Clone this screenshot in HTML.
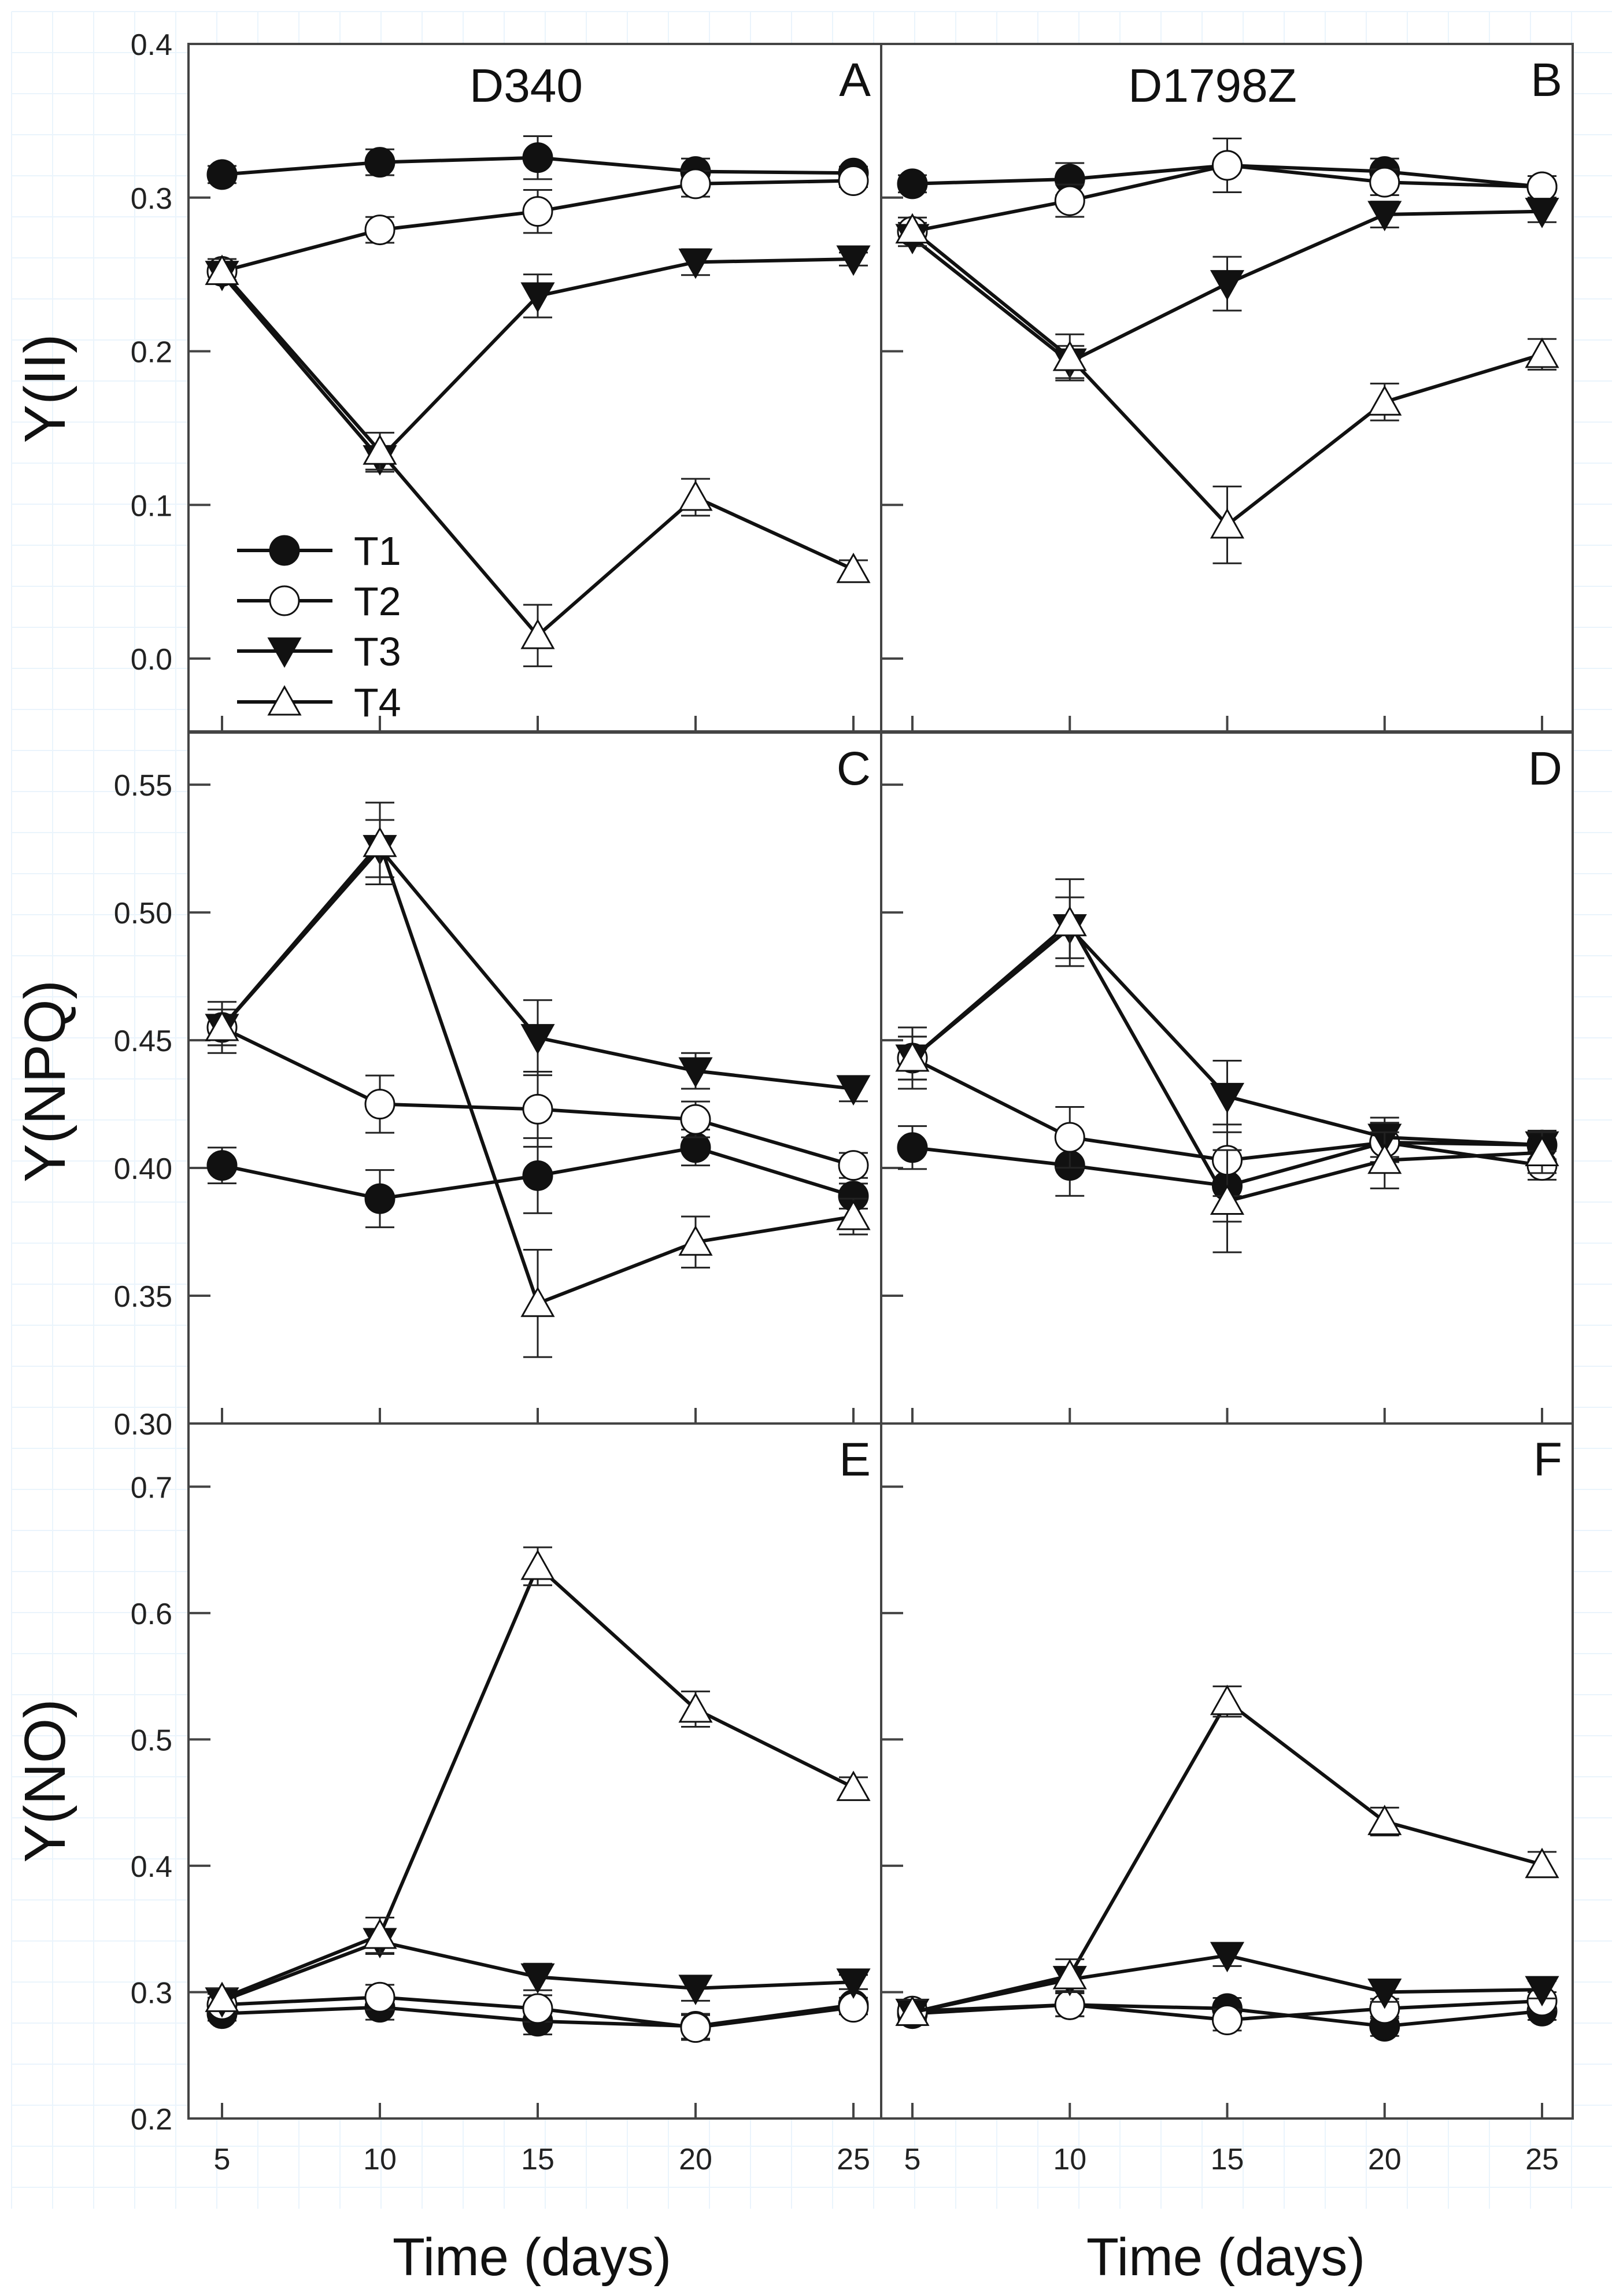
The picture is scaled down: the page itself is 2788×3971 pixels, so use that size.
<!DOCTYPE html>
<html><head><meta charset="utf-8"><style>
html,body{margin:0;padding:0;background:#fff;}
svg{display:block;font-family:"Liberation Sans",Arial,sans-serif;}
</style></head><body>
<svg id="chart" width="2788" height="3971" viewBox="0 0 2788 3971" xmlns="http://www.w3.org/2000/svg">
<g id="grid"></g>
<g id="plots"></g>
</svg>
<script>
const days = [5, 10, 15, 20, 25];
const seriesNames = ['T1', 'T2', 'T3', 'T4'];
// Panel A: Y(II) D340
const A_T1 = [0.315, 0.323, 0.326, 0.317, 0.316];
const A_T2 = [0.252, 0.279, 0.291, 0.309, 0.311];
const A_T3 = [0.250, 0.130, 0.236, 0.258, 0.260];
const A_T4 = [0.252, 0.135, 0.015, 0.105, 0.058];
const A_err = [0.008, 0.012, 0.020, 0.012, 0.006];
// Panel B: Y(II) D1798Z
const B_T1 = [0.309, 0.312, 0.321, 0.317, 0.307];
const B_T2 = [0.278, 0.298, 0.321, 0.310, 0.307];
const B_T3 = [0.274, 0.193, 0.244, 0.289, 0.291];
const B_T4 = [0.279, 0.196, 0.087, 0.167, 0.198];
const B_err = [0.008, 0.015, 0.025, 0.012, 0.010];
// Panel C: Y(NPQ) D340
const C_T1 = [0.401, 0.388, 0.397, 0.408, 0.389];
const C_T2 = [0.455, 0.425, 0.423, 0.419, 0.401];
const C_T3 = [0.455, 0.525, 0.451, 0.438, 0.431];
const C_T4 = [0.455, 0.527, 0.347, 0.371, 0.381];
const C_err = [0.010, 0.016, 0.021, 0.010, 0.007];
// Panel D: Y(NPQ) D1798Z
const D_T1 = [0.408, 0.401, 0.393, 0.410, 0.409];
const D_T2 = [0.443, 0.412, 0.403, 0.410, 0.401];
const D_T3 = [0.443, 0.494, 0.428, 0.412, 0.409];
const D_T4 = [0.443, 0.496, 0.387, 0.403, 0.406];
const D_err = [0.012, 0.017, 0.020, 0.011, 0.008];
// Panel E: Y(NO) D340
const E_T1 = [0.283, 0.288, 0.277, 0.273, 0.290];
const E_T2 = [0.290, 0.296, 0.287, 0.272, 0.288];
const E_T3 = [0.293, 0.340, 0.312, 0.303, 0.308];
const E_T4 = [0.295, 0.345, 0.637, 0.524, 0.462];
const E_err = [0.008, 0.014, 0.015, 0.014, 0.008];
// Panel F: Y(NO) D1798Z
const F_T1 = [0.283, 0.290, 0.287, 0.273, 0.285];
const F_T2 = [0.285, 0.290, 0.278, 0.287, 0.293];
const F_T3 = [0.284, 0.310, 0.329, 0.300, 0.302];
const F_T4 = [0.284, 0.313, 0.530, 0.435, 0.401];
const F_err = [0.010, 0.013, 0.012, 0.011, 0.010];
const yTicksII = [0.0, 0.1, 0.2, 0.3, 0.4];
const yTickLabelsII = ['0.0', '0.1', '0.2', '0.3', '0.4'];
const yTicksNPQ = [0.30, 0.35, 0.40, 0.45, 0.50, 0.55];
const yTickLabelsNPQ = ['0.30', '0.35', '0.40', '0.45', '0.50', '0.55'];
const yTicksNO = [0.2, 0.3, 0.4, 0.5, 0.6, 0.7];
const yTickLabelsNO = ['0.2', '0.3', '0.4', '0.5', '0.6', '0.7'];
const xTickLabels = ['5', '10', '15', '20', '25'];

const NS = 'http://www.w3.org/2000/svg';
function mk(tag, attrs, parent) {
  const e = document.createElementNS(NS, tag);
  for (const k in attrs) e.setAttribute(k, attrs[k]);
  parent.appendChild(e);
  return e;
}
const grid = document.getElementById('grid');
for (let x = 20; x < 2788; x += 71) {
  const l = mk('line', {x1: x, y1: 20, x2: x, y2: 3820, stroke: '#eaf4fc', 'stroke-width': 2}, grid);
  
  
}
for (let y = 20; y < 3830; y += 71) {
  const l = mk('line', {x1: 20, y1: y, x2: 2788, y2: y, stroke: '#eaf4fc', 'stroke-width': 2}, grid);
  
  
}

const plots = document.getElementById('plots');
const colX = [{l: 326, r: 1524, x5: 384, x25: 1476}, {l: 1524, r: 2720, x5: 1578, x25: 2667}];
const rows = [
  {top: 76, bot: 1265, vTop: 0.4, vBot: -0.0474, ticks: yTicksII, labels: yTickLabelsII, title: 'Y(II)', ty: 672},
  {top: 1267, bot: 2462, vTop: 0.5704, vBot: 0.30, ticks: yTicksNPQ, labels: yTickLabelsNPQ, title: 'Y(NPQ)', ty: 1870},
  {top: 2462, bot: 3664, vTop: 0.75, vBot: 0.20, ticks: yTicksNO, labels: yTickLabelsNO, title: 'Y(NO)', ty: 3080}
];
const panels = [
  {r: 0, c: 0, letter: 'A', s: [A_T1, A_T2, A_T3, A_T4], err: A_err, head: 'D340'},
  {r: 0, c: 1, letter: 'B', s: [B_T1, B_T2, B_T3, B_T4], err: B_err, head: 'D1798Z'},
  {r: 1, c: 0, letter: 'C', s: [C_T1, C_T2, C_T3, C_T4], err: C_err},
  {r: 1, c: 1, letter: 'D', s: [D_T1, D_T2, D_T3, D_T4], err: D_err},
  {r: 2, c: 0, letter: 'E', s: [E_T1, E_T2, E_T3, E_T4], err: E_err},
  {r: 2, c: 1, letter: 'F', s: [F_T1, F_T2, F_T3, F_T4], err: F_err}
];

function marker(g, i, cx, cy) {
  let m;
  if (i === 0) m = mk('circle', {cx, cy, r: 25, fill: '#111', stroke: '#111', 'stroke-width': 3}, g);
  else if (i === 1) m = mk('circle', {cx, cy, r: 25, fill: '#fff', stroke: '#111', 'stroke-width': 3}, g);
  else if (i === 2) m = mk('polygon', {points: `${cx-27},${cy-22} ${cx+27},${cy-22} ${cx},${cy+26}`, fill: '#111', stroke: '#111', 'stroke-width': 3}, g);
  else m = mk('polygon', {points: `${cx},${cy-26} ${cx+27},${cy+22} ${cx-27},${cy+22}`, fill: '#fff', stroke: '#111', 'stroke-width': 3}, g);
  return m;
}

panels.forEach(p => {
  const row = rows[p.r], col = colX[p.c];
  const xS = d => col.x5 + (d - 5) / 20 * (col.x25 - col.x5);
  const yS = v => row.top + (row.vTop - v) / (row.vTop - row.vBot) * (row.bot - row.top);
  const g = mk('g', {}, plots);
  
  
  const bg = mk('rect', {x: col.l, y: row.top, width: col.r - col.l, height: row.bot - row.top, fill: '#fff', stroke: '#444', 'stroke-width': 4}, g);
  
  
  row.ticks.forEach((t, k) => {
    const y = yS(t);
    const tk = mk('line', {x1: col.l, y1: y, x2: col.l + 38, y2: y, stroke: '#444', 'stroke-width': 4}, g);
    
    
    if (p.c === 0) {
      const tl = mk('text', {x: 298, y: y + 19, 'text-anchor': 'end', 'font-size': 52, fill: '#222'}, g);
      tl.textContent = row.labels[k];
      
      
    }
  });
  days.forEach((d, k) => {
    const x = xS(d);
    const tk = mk('line', {x1: x, y1: row.bot, x2: x, y2: row.bot - 27, stroke: '#444', 'stroke-width': 4}, g);
    
    
    if (p.r === 2) {
      const tl = mk('text', {x: x, y: 3752, 'text-anchor': 'middle', 'font-size': 52, fill: '#222'}, g);
      tl.textContent = xTickLabels[k];
      
      
    }
  });
  p.s.forEach((vals, i) => {
    const sg = mk('g', {}, g);
    
    
    const pts = vals.map((v, k) => xS(days[k]) + ',' + yS(v)).join(' ');
    const pl = mk('polyline', {points: pts, fill: 'none', stroke: '#111', 'stroke-width': 6}, sg);
    
    
    vals.forEach((v, k) => {
      const x = xS(days[k]);
      const e = p.err[k] * (i === 3 ? 1 : 0.7);
      const y1 = yS(v + e), y2 = yS(v - e);
      const eb = mk('path', {d: `M${x},${y1}V${y2}M${x-25},${y1}H${x+25}M${x-25},${y2}H${x+25}`, stroke: '#222', 'stroke-width': 3, fill: 'none'}, sg);
      
      
    });
    vals.forEach((v, k) => {
      const m = marker(sg, i, xS(days[k]), yS(v));
      
      
    });
  });
  const lt = mk('text', {x: col.r - 18, y: row.top + 90, 'text-anchor': 'end', 'font-size': 82, fill: '#111'}, g);
  lt.textContent = p.letter;
  
  
  if (p.head) {
    const ht = mk('text', {x: (col.l + col.r) / 2 + (p.c === 0 ? -15 : -25), y: row.top + 100, 'text-anchor': 'middle', 'font-size': 82, fill: '#111'}, g);
    ht.textContent = p.head;
    
    
  }
});
rows.forEach(row => {
  const t = mk('text', {x: 0, y: 0, transform: `translate(112,${row.ty}) rotate(-90)`, 'text-anchor': 'middle', 'font-size': 100, fill: '#111'}, plots);
  t.textContent = row.title;
  
  
});
[920, 2120].forEach(x => {
  const t = mk('text', {x, y: 3935, 'text-anchor': 'middle', 'font-size': 92, fill: '#111'}, plots);
  t.textContent = 'Time (days)';
  
  
});
const leg = mk('g', {}, plots);


const legY = [952, 1039, 1126, 1214];
seriesNames.forEach((n, i) => {
  const eg = mk('g', {}, leg);
  
  
  mk('line', {x1: 410, y1: legY[i], x2: 575, y2: legY[i], stroke: '#111', 'stroke-width': 6}, eg);
  marker(eg, i, 492, legY[i]);
  const t = mk('text', {x: 612, y: legY[i] + 25, 'font-size': 70, fill: '#111'}, eg);
  t.textContent = n;
});
</script>
</body></html>
